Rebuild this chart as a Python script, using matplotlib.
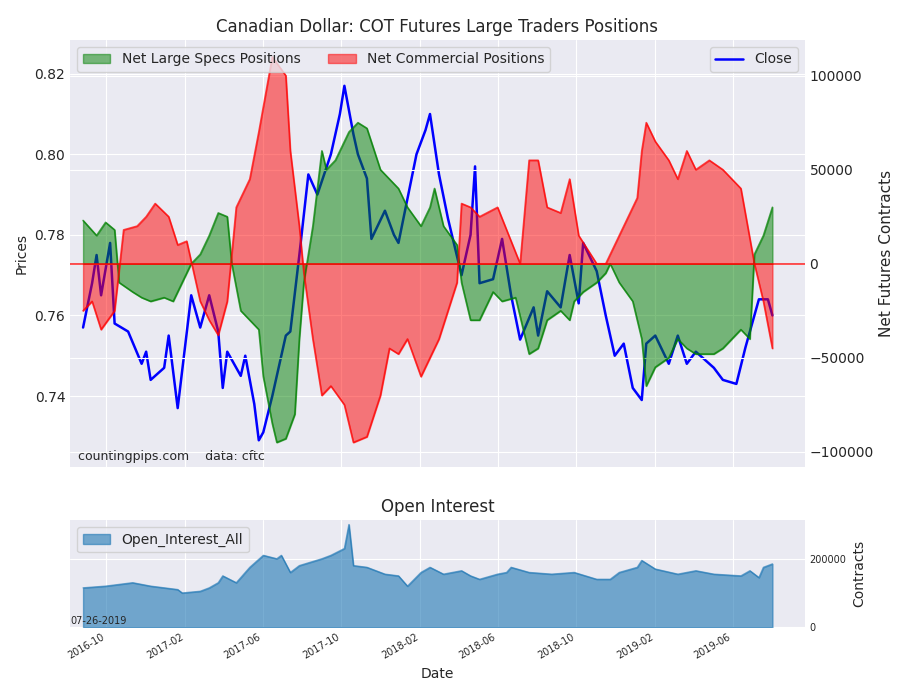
import matplotlib
matplotlib.use("Agg")
import matplotlib.pyplot as plt
import matplotlib.dates as mdates
import numpy as np
import pandas as pd

plt.style.use("seaborn-v0_8-darkgrid")
plt.rcParams['font.family'] = ['DejaVu Sans']

start = pd.Timestamp("2016-08-26")

spec_weeks = [0,3,5,7,8,11,13,15,18,20,22,24,26,28,30,32,33,35,37,39,40,42,43,45,47,48,49,51,53,54,56,59,61,63,66,68,70,72,75,77,78,80,83,84,86,88,91,93,96,99,101,103,106,108,109,111,114,116,117,119,122,124,125,127,130,132,134,136,140,142,146,148,149,151,153]
spec_vals = [23,15,22,18,-10,-15,-18,-20,-18,-20,-10,0,5,15,27,25,0,-25,-30,-35,-60,-85,-95,-93,-80,-40,-10,20,60,50,55,70,75,72,50,45,40,30,20,30,40,20,10,-10,-30,-30,-15,-20,-18,-48,-45,-30,-25,-30,-20,-15,-10,-5,0,-10,-20,-40,-65,-55,-50,-40,-45,-48,-48,-45,-35,-40,5,15,30]

comm_weeks = [0,2,4,7,9,12,14,16,19,21,23,26,28,30,32,34,36,37,39,42,45,46,48,49,51,53,55,58,60,63,66,68,70,72,75,79,83,84,86,88,92,97,99,101,103,106,108,110,114,116,118,120,123,124,125,127,130,132,134,136,139,142,144,146,149,151,153]
comm_vals = [-25,-20,-35,-25,18,20,25,32,25,10,12,-20,-30,-38,-20,30,40,45,70,110,100,60,20,-5,-40,-70,-65,-75,-95,-92,-70,-45,-48,-40,-60,-40,-10,32,30,25,30,0,55,55,30,27,45,15,0,0,10,20,35,60,75,65,55,45,60,50,55,50,45,40,0,-20,-45]

close_weeks = [0,2,3,4,6,7,10,13,14,15,18,19,21,24,26,28,30,31,32,35,36,38,39,40,42,45,46,48,50,52,55,57,58,60,61,63,64,67,69,70,74,76,77,79,81,84,86,87,88,91,93,95,97,100,101,103,106,108,110,111,114,116,118,120,122,124,125,127,130,132,134,136,140,142,145,147,150,152,153]
close_vals = [0.757,0.768,0.775,0.765,0.778,0.758,0.756,0.748,0.751,0.744,0.747,0.755,0.737,0.765,0.757,0.765,0.756,0.742,0.751,0.745,0.750,0.738,0.729,0.731,0.740,0.755,0.756,0.775,0.795,0.790,0.800,0.810,0.817,0.805,0.800,0.794,0.779,0.786,0.780,0.778,0.800,0.806,0.810,0.795,0.784,0.770,0.780,0.797,0.768,0.769,0.779,0.765,0.754,0.762,0.755,0.766,0.762,0.775,0.763,0.778,0.771,0.760,0.750,0.753,0.742,0.739,0.753,0.755,0.748,0.755,0.748,0.751,0.747,0.744,0.743,0.752,0.764,0.764,0.760]

oi_weeks = [0,5,11,15,21,22,26,28,30,31,34,37,40,43,44,46,48,53,55,58,59,60,63,67,70,72,75,77,80,84,86,88,92,94,95,99,104,109,114,117,119,123,124,127,132,136,140,146,148,150,151,153]
oi_vals = [115,120,130,120,110,100,105,115,130,150,130,175,210,200,210,160,180,200,210,230,300,180,175,155,150,120,160,175,155,165,150,140,155,160,175,160,155,160,140,140,160,175,195,170,155,165,155,150,165,145,175,185]

def to_dates(w):
    return start + pd.to_timedelta(np.array(w) * 7, unit="D")

fig = plt.figure(figsize=(9, 7), dpi=100)
ax = fig.add_axes([0.078, 0.333, 0.816, 0.61])
ax2 = ax.twinx()

ax.plot(to_dates(close_weeks), close_vals, color="blue", lw=1.8, label="Close")
ax.set_ylim(0.7224, 0.8284)
ax.set_ylabel("Prices")
ax.set_yticks([0.74, 0.76, 0.78, 0.80, 0.82])

sd = to_dates(spec_weeks); sv = np.array(spec_vals) * 1000
cd = to_dates(comm_weeks); cv = np.array(comm_vals) * 1000
ax2.fill_between(sd, sv, 0, color="green", alpha=0.5, label="Net Large Specs Positions")
ax2.plot(sd, sv, color="green", alpha=0.7, lw=1.2)
ax2.fill_between(cd, cv, 0, color="red", alpha=0.5, label="Net Commercial Positions")
ax2.plot(cd, cv, color="red", alpha=0.7, lw=1.2)
ax2.axhline(0, color="red", lw=1.2, alpha=0.8)
ax2.set_ylim(-108000, 119000)
ax2.set_yticks([-100000, -50000, 0, 50000, 100000])
ax2.set_ylabel("Net Futures Contracts", fontsize=11)
ax2.grid(True, color="white")
ax.set_title("Canadian Dollar: COT Futures Large Traders Positions", fontsize=12)
ax2.legend(loc="upper left", ncol=2, frameon=True, fontsize=10)
ax.legend(loc="upper right", frameon=True, fontsize=10)
ax.text(0.01, 0.015, "countingpips.com    data: cftc", transform=ax.transAxes, fontsize=9)

xmin = start - pd.Timedelta(days=20); xmax = to_dates([153])[0] + pd.Timedelta(days=50)
ax.set_xlim(xmin, xmax)
ax.xaxis.set_major_locator(mdates.MonthLocator(bymonth=[2, 6, 10]))
plt.setp(ax.get_xticklabels(), visible=False)

bx = fig.add_axes([0.078, 0.104, 0.816, 0.153], sharex=ax)
od = to_dates(oi_weeks); ov = np.array(oi_vals) * 1000
bx.fill_between(od, ov, 0, color="#1f77b4", alpha=0.6, label="Open_Interest_All")
bx.plot(od, ov, color="#1f77b4", alpha=0.6, lw=1)
bx.set_ylim(0, 313000)
bx.yaxis.tick_right()
bx.yaxis.set_label_position("right")
bx.set_yticks([0, 200000])
bx.tick_params(axis="y", labelsize=7)
bx.set_ylabel("Contracts", fontsize=10)
bx.set_title("Open Interest", fontsize=12)
bx.set_xlabel("Date")
bx.legend(loc="upper left", frameon=True, fontsize=10)
bx.text(0.0, 0.03, "07-26-2019", transform=bx.transAxes, fontsize=7)
bx.xaxis.set_major_formatter(mdates.DateFormatter("%Y-%m"))
plt.setp(bx.get_xticklabels(), rotation=30, ha="right", fontsize=7)

fig.savefig("out.png", dpi=100)
